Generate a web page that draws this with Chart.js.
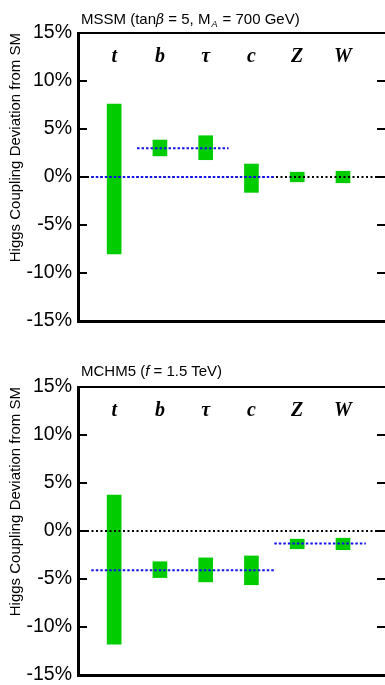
<!DOCTYPE html>
<html>
<head>
<meta charset="utf-8">
<script src="https://cdn.jsdelivr.net/npm/chart.js@4/dist/chart.umd.min.js"></script>
<style>
  html, body { margin: 0; padding: 0; background: #fff; }
  body { width: 385px; height: 685px; overflow: hidden; position: relative; }
  .panel { position: absolute; left: 0; width: 395px; height: 331px; }
  .title { position: absolute; left: 81px; font: 15px "Liberation Sans", Arial, sans-serif; line-height: 18px; color: #000; white-space: nowrap; }
  .title i.sym { font-family: "DejaVu Serif", "Liberation Serif", serif; font-size: 14px; }
  .title sub { font-size: 9px; font-style: italic; vertical-align: -3px; margin-left: 1px; margin-right: 1px; }
</style>
</head>
<body>
<div class="panel" style="top:0px"><canvas id="c1" width="395" height="331"></canvas></div>
<div class="panel" style="top:354px"><canvas id="c2" width="395" height="331"></canvas></div>
<div class="title" style="top:10px">MSSM (tan<i class="sym">β</i> = 5, M<sub>A</sub> = 700 GeV)</div>
<div class="title" style="top:362px">MCHM5 (<i>f</i> = 1.5 TeV)</div>
<script>
// ---- data ----
const categories = ['t', 'b', 'τ', 'c', 'Z', 'W'];
const yTicks = [-15, -10, -5, 0, 5, 10, 15];

// MSSM (tanβ = 5, M_A = 700 GeV): measurement bands (%)
const mssmLow  = [-8.0, 2.2, 1.8, -1.6, -0.5, -0.6];
const mssmHigh = [7.6, 3.85, 4.3, 1.35, 0.5, 0.6];
// MSSM prediction segments: value, from category position, to category position
const mssmPredValue = [0, 3.0];
const mssmPredFrom  = [0.5, 1.5];
const mssmPredTo    = [4.5, 3.5];

// MCHM5 (f = 1.5 TeV): measurement bands (%)
const mchmLow  = [-11.8, -4.85, -5.3, -5.6, -1.85, -1.95];
const mchmHigh = [3.75, -3.2, -2.8, -2.6, -0.85, -0.75];
const mchmPredValue = [-4.1, -1.3];
const mchmPredFrom  = [0.5, 4.5];
const mchmPredTo    = [4.5, 6.5];

const X_MIN = 0.21, X_MAX = 6.94;

function noPad(s) { s.paddingTop = 0; s.paddingBottom = 0; s.paddingLeft = 0; s.paddingRight = 0; }

function makeChart(id, low, high, predValue, predFrom, predTo) {
  const datasets = [];
  datasets.push({
    type: 'bar',
    label: 'band',
    data: categories.map((c, i) => ({ x: i + 1, y: [low[i], high[i]] })),
    backgroundColor: '#00cc00',
    borderWidth: 0,
    barThickness: 14,
    order: 10
  });
  datasets.push({
    type: 'line',
    label: 'SM',
    data: [{ x: X_MIN, y: 0 }, { x: X_MAX, y: 0 }],
    borderColor: '#000000',
    borderWidth: 2,
    borderDash: [2, 2.5],
    pointRadius: 0,
    order: 5
  });
  predValue.forEach((v, k) => {
    datasets.push({
      type: 'line',
      label: 'pred' + k,
      data: [{ x: predFrom[k], y: v }, { x: predTo[k], y: v }],
      borderColor: '#1010ee',
      borderWidth: 2,
      borderDash: [2.5, 2],
      pointRadius: 0,
      order: 1
    });
  });

  return new Chart(document.getElementById(id), {
    type: 'bar',
    data: { datasets },
    options: {
      responsive: false,
      animation: false,
      devicePixelRatio: 1,
      layout: { padding: { top: 33, bottom: 10, left: 0, right: 9 } },
      plugins: { legend: { display: false }, tooltip: { enabled: false }, title: { display: false } },
      scales: {
        x: {
          type: 'linear',
          position: 'top',
          offset: false,
          min: X_MIN, max: X_MAX,
          afterBuildTicks: s => { s.ticks = categories.map((c, i) => ({ value: i + 1 })); },
          afterFit: s => { s.height = 0; noPad(s); },
          grid: { display: false, drawTicks: false },
          border: { display: true, color: '#000', width: 2 },
          ticks: {
            autoSkip: false, maxRotation: 0, minRotation: 0,
            mirror: true,
            padding: 12,
            color: '#000',
            font: { family: '"Liberation Serif", "Times New Roman", serif', size: 20, style: 'italic', weight: 'bold' },
            callback: v => categories[Math.round(v) - 1] ?? ''
          }
        },
        x2: {
          type: 'linear',
          position: 'bottom',
          offset: false,
          min: X_MIN, max: X_MAX,
          afterFit: s => { s.height = 0; noPad(s); },
          grid: { display: false, drawTicks: false },
          border: { display: true, color: '#000', width: 3 },
          ticks: { display: false }
        },
        y: {
          type: 'linear',
          position: 'left',
          min: -15, max: 15,
          afterBuildTicks: s => { s.ticks = yTicks.map(v => ({ value: v })); },
          afterFit: s => { s.width = 78; noPad(s); },
          grid: { drawOnChartArea: false, drawTicks: true, tickLength: -9, color: '#000', lineWidth: 2 },
          border: { display: true, color: '#000', width: 3 },
          ticks: {
            padding: 15,
            color: '#000',
            font: { family: '"Liberation Sans", Arial, sans-serif', size: 19.5 },
            callback: v => v + '%'
          },
          title: {
            display: true,
            text: 'Higgs Coupling Deviation from SM',
            align: 'end',
            color: '#000',
            padding: { top: 7, bottom: 0 },
            font: { family: '"Liberation Sans", Arial, sans-serif', size: 15 }
          }
        },
        y2: {
          type: 'linear',
          position: 'right',
          min: -15, max: 15,
          afterBuildTicks: s => { s.ticks = yTicks.map(v => ({ value: v })); },
          afterFit: s => { s.width = 0; noPad(s); },
          grid: { drawOnChartArea: false, drawTicks: true, tickLength: -9, color: '#000', lineWidth: 2 },
          border: { display: false },
          ticks: { display: false }
        }
      }
    }
  });
}

makeChart('c1', mssmLow, mssmHigh, mssmPredValue, mssmPredFrom, mssmPredTo);
makeChart('c2', mchmLow, mchmHigh, mchmPredValue, mchmPredFrom, mchmPredTo);
</script>
</body>
</html>
